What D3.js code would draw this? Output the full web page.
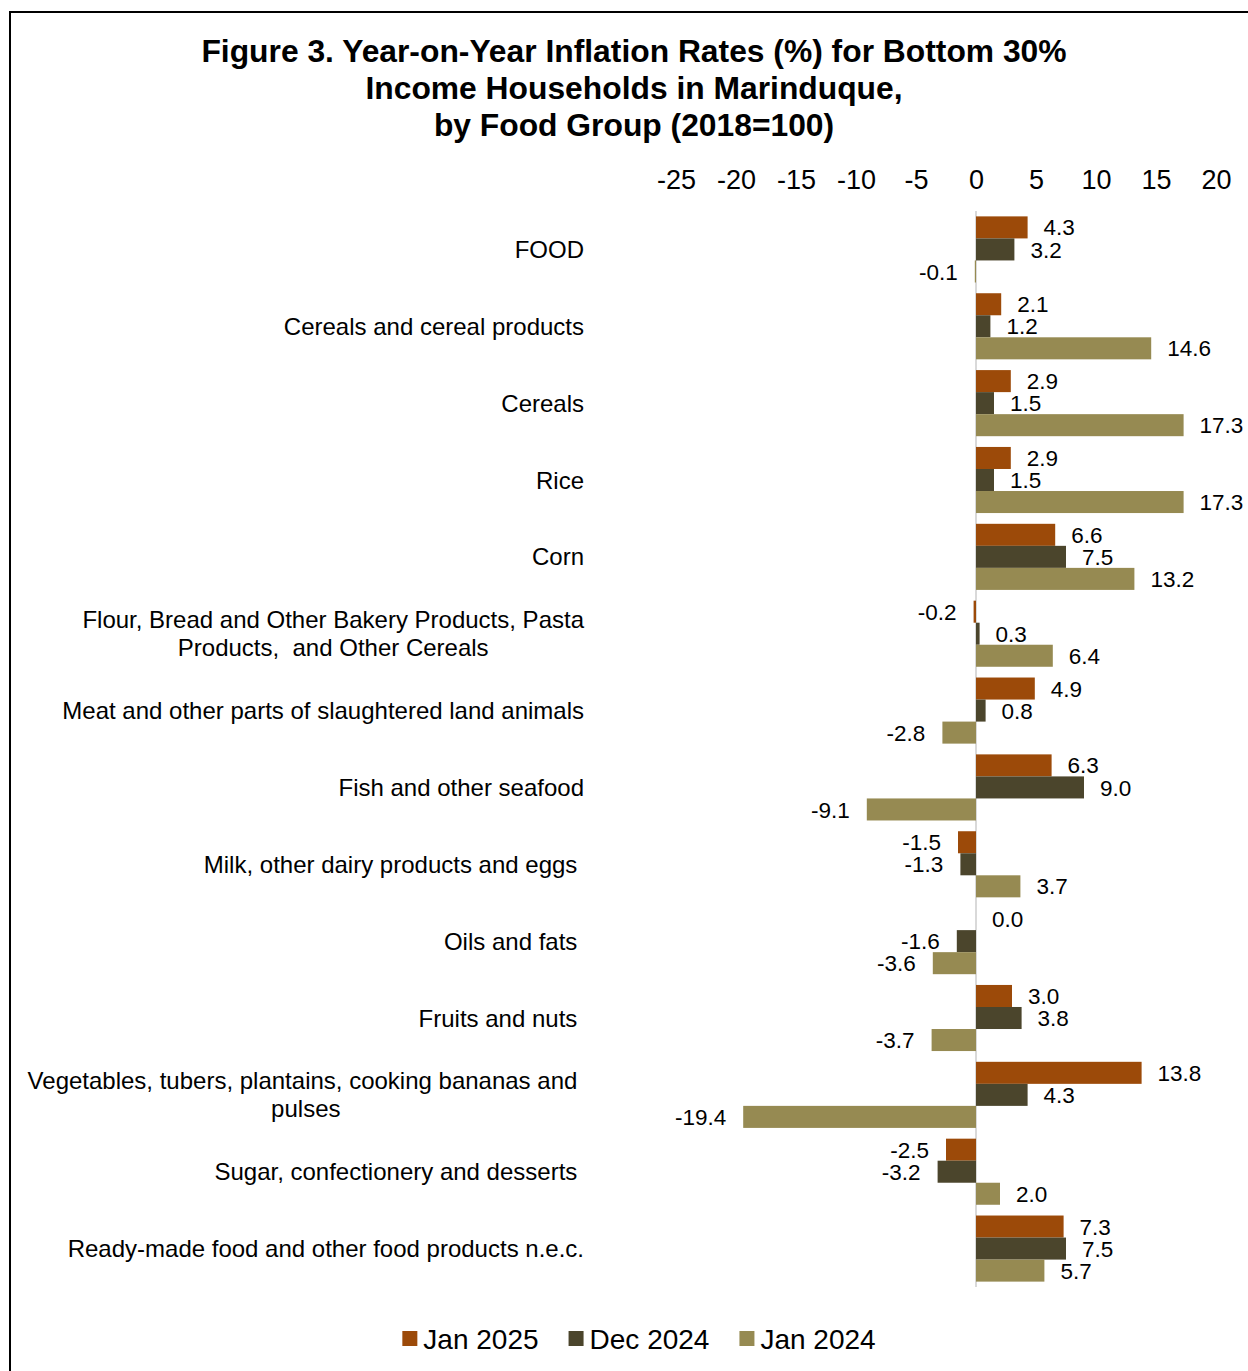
<!DOCTYPE html>
<html>
<head>
<meta charset="utf-8">
<script src="https://cdn.jsdelivr.net/npm/d3@7"></script>
<style>
  body { margin: 0; background: #fff; }
  text { font-family: "Liberation Sans", Arial, sans-serif; fill: #000; white-space: pre; }
</style>
</head>
<body>
<div id="Chart"></div>
<script>
var w = 1248;
var h = 1371;

// categories (wrapped lines as in the original)
var categories = [
    ["FOOD"],
    ["Cereals and cereal products"],
    ["Cereals"],
    ["Rice"],
    ["Corn"],
    ["Flour, Bread and Other Bakery Products, Pasta", "Products,  and Other Cereals"],
    ["Meat and other parts of slaughtered land animals"],
    ["Fish and other seafood"],
    ["Milk, other dairy products and eggs "],
    ["Oils and fats "],
    ["Fruits and nuts "],
    ["Vegetables, tubers, plantains, cooking bananas and ", "pulses"],
    ["Sugar, confectionery and desserts "],
    ["Ready-made food and other food products n.e.c."]
];
var seriesNames = ["Jan 2025", "Dec 2024", "Jan 2024"];
var jan2025 = [4.3, 2.1, 2.9, 2.9, 6.6, -0.2, 4.9, 6.3, -1.5, 0.0, 3.0, 13.8, -2.5, 7.3];
var dec2024 = [3.2, 1.2, 1.5, 1.5, 7.5, 0.3, 0.8, 9.0, -1.3, -1.6, 3.8, 4.3, -3.2, 7.5];
var jan2024 = [-0.1, 14.6, 17.3, 17.3, 13.2, 6.4, -2.8, -9.1, 3.7, -3.6, -3.7, -19.4, 2.0, 5.7];
var ticks = [-25, -20, -15, -10, -5, 0, 5, 10, 15, 20];
var colors = ["#9c4a09", "#4b452c", "#968a52"];

var series = [jan2025, dec2024, jan2024];

// plain hyphen instead of d3's unicode minus
function fmt1(d){ return d.toFixed(1); }

function doChart()
{
    var svg = d3.select("#Chart").append("svg")
        .attr("width", w)
        .attr("height", h);

    // outer frame
    svg.append("rect")
        .attr("x", 10).attr("y", 12)
        .attr("width", 1270).attr("height", 1400)
        .attr("fill", "none")
        .attr("stroke", "#000")
        .attr("stroke-width", 2);

    // title
    var titleLines = ["Figure 3. Year-on-Year Inflation Rates (%) for Bottom 30%",
        "Income Households in Marinduque,",
        "by Food Group (2018=100)"];
    svg.append("g").selectAll("text")
        .data(titleLines)
        .enter()
        .append("text")
        .attr("x", 634)
        .attr("y", function(d, i){ return 62 + i * 37; })
        .attr("text-anchor", "middle")
        .style("font-size", "31.8px")
        .style("font-weight", "bold")
        .text(function(d){ return d; });

    var x = d3.scaleLinear()
        .domain([-25, 20])
        .range([676, 1216]);

    var idx = d3.range(categories.length);
    var y0 = d3.scaleBand()
        .domain(idx)
        .range([211, 1287])
        .paddingInner(0.14)
        .paddingOuter(0.07);

    var y1 = d3.scaleBand()
        .domain(d3.range(series.length))
        .range([0, y0.bandwidth()]);

    // top axis labels
    var axis = svg.append("g")
        .attr("transform", "translate(0,189)")
        .call(d3.axisTop(x).tickValues(ticks).tickSize(0).tickPadding(0)
            .tickFormat(function(d){ return String(d); }));
    axis.select(".domain").remove();
    axis.selectAll("text")
        .style("font-size", "27px")
        .attr("dy", 0)
        .style("font-family", "'Liberation Sans', Arial, sans-serif");

    // zero line
    svg.append("line")
        .attr("x1", x(0)).attr("x2", x(0))
        .attr("y1", 211).attr("y2", 1287)
        .attr("stroke", "#d9d9d9")
        .attr("stroke-width", 2);

    // bars
    series.forEach(function(vals, s){
        var g = svg.append("g").attr("class", "series" + s);
        g.selectAll("rect")
            .data(vals)
            .enter()
            .append("rect")
            .attr("x", function(d){ return x(Math.min(0, d)); })
            .attr("width", function(d){ return Math.abs(x(d) - x(0)); })
            .attr("y", function(d, i){ return y0(i) + y1(s); })
            .attr("height", y1.bandwidth())
            .attr("fill", colors[s]);

        g.selectAll("text")
            .data(vals)
            .enter()
            .append("text")
            .attr("x", function(d){ return d >= 0 ? x(d) + 16 : x(d) - 17; })
            .attr("y", function(d, i){ return y0(i) + y1(s) + y1.bandwidth() / 2; })
            .attr("dy", "0.36em")
            .attr("text-anchor", function(d){ return d >= 0 ? "start" : "end"; })
            .style("font-size", "22.5px")
            .text(fmt1);
    });

    // category labels
    var labelRight = 584;
    var lineH = 28;
    categories.forEach(function(lines, i){
        var g = svg.append("g");
        var t = g.selectAll("text")
            .data(lines)
            .enter()
            .append("text")
            .style("font-size", "24px")
            .attr("text-anchor", "middle")
            .text(function(d){ return d; });
        var maxW = 0;
        t.each(function(){ maxW = Math.max(maxW, this.getComputedTextLength()); });
        var cy = y0(i) + y0.bandwidth() / 2;
        t.attr("x", labelRight - maxW / 2)
            .attr("y", function(d, k){ return cy + (k - (lines.length - 1) / 2) * lineH; })
            .attr("dy", "0.36em");
    });

    // legend
    var leg = svg.append("g");
    var xpos = 0;
    seriesNames.forEach(function(name, s){
        var item = leg.append("g").attr("transform", "translate(" + xpos + ",0)");
        item.append("rect")
            .attr("x", 0).attr("y", -8)
            .attr("width", 15).attr("height", 15)
            .attr("fill", colors[s]);
        var tx = item.append("text")
            .attr("x", 21).attr("y", 0)
            .attr("dy", "0.36em")
            .style("font-size", "28px")
            .text(name);
        xpos += 21 + tx.node().getComputedTextLength() + 30;
    });
    var legW = xpos - 30;
    leg.attr("transform", "translate(" + (639 - legW / 2) + ",1339)");
}

doChart();
</script>
</body>
</html>
